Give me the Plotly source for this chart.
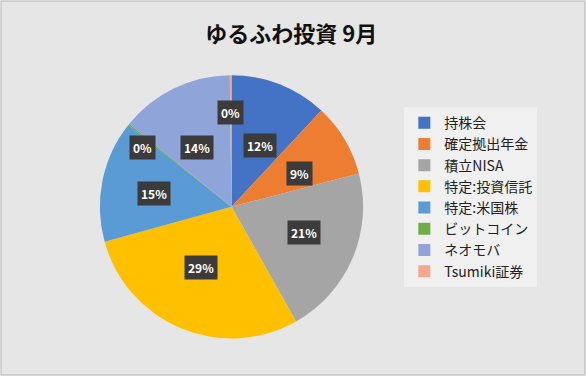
import math
import plotly.graph_objects as go

categories = ["持株会", "確定拠出年金", "積立NISA", "特定:投資信託", "特定:米国株", "ビットコイン", "ネオモバ", "Tsumiki証券"]
values = [12, 9, 21, 29, 15, 0.2, 14, 0.2]
colors = ["#4472C4", "#ED7D31", "#A5A5A5", "#FFC000", "#5B9BD5", "#70AD47", "#8FA5D9", "#F4A98C"]

W, H = 586, 376
FONT = "Noto Sans CJK JP"

# pie domain (paper fractions)
dom_x = [0.12, 0.67]
dom_y = [0.10, 0.80]

fig = go.Figure(go.Pie(
    labels=categories,
    values=values,
    sort=False,
    direction="clockwise",
    rotation=0,
    marker=dict(colors=colors, line=dict(width=0)),
    textinfo="none",
    hoverinfo="label+percent",
    domain=dict(x=dom_x, y=dom_y),
))

# data labels: computed from the data (slice mid-angle) and pie geometry
total = sum(values)
cx_px = (dom_x[0] + dom_x[1]) / 2 * W
cy_px = (1 - (dom_y[0] + dom_y[1]) / 2) * H
radius = min((dom_x[1] - dom_x[0]) * W, (dom_y[1] - dom_y[0]) * H) / 2
cum = 0.0
for v in values:
    frac = v / total
    mid = (cum + frac / 2) * 2 * math.pi
    cum += frac
    rf = 0.5 if frac >= 0.01 else 0.72
    x_px = cx_px + radius * rf * 1.2 * math.sin(mid)
    y_px = cy_px - radius * rf * math.cos(mid)
    fig.add_annotation(
        x=x_px / W, y=1 - y_px / H, xref="paper", yref="paper",
        xanchor="center", yanchor="middle",
        text=f"<b>{round(frac * 100):d}%</b>", showarrow=False,
        font=dict(family=FONT, size=12, color="white"),
        bgcolor="#3B3B3B", borderpad=3,
    )

fig.update_layout(
    width=W, height=H,
    margin=dict(l=0, r=0, t=0, b=0),
    paper_bgcolor="#E6E6E6",
    plot_bgcolor="#E6E6E6",
    font=dict(family=FONT, size=12, color="#222222"),
    title=dict(text="<b>ゆるふわ投資 9月</b>", x=0.497, xanchor="center", y=0.91, yanchor="middle",
               font=dict(family=FONT, size=22, color="#111111")),
    legend=dict(x=0.69, y=0.715, xanchor="left", yanchor="top",
                bgcolor="rgba(242,242,242,0.8)",
                font=dict(family=FONT, size=14, color="#222222")),
    shapes=[dict(type="rect", xref="paper", yref="paper", x0=0.002, y0=0.003, x1=0.998, y1=0.997,
                 line=dict(color="#BDBDBD", width=1))],
)

fig.write_html("out.html", post_script="document.body.style.margin='0';",
               config={"displayModeBar": False})
